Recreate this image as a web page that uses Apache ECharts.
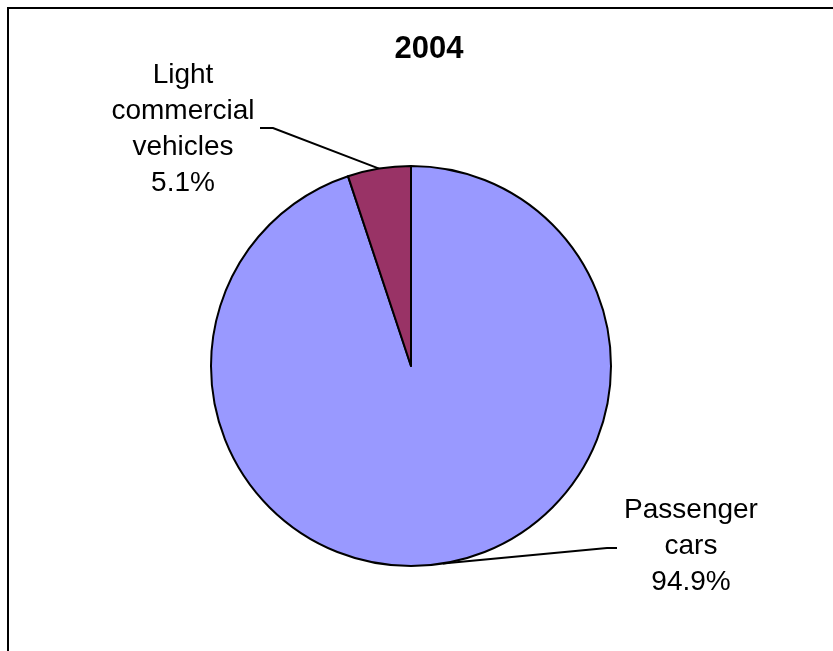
<!DOCTYPE html>
<html>
<head>
<meta charset="utf-8">
<script src="https://cdn.jsdelivr.net/npm/echarts@6/dist/echarts.min.js"></script>
<style>
html,body{margin:0;padding:0;background:#fff;}
#chart{width:833px;height:651px;}
</style>
</head>
<body>
<div id="chart"></div>
<script>
const title = '2004';
const categories = ['Passenger\ncars', 'Light\ncommercial\nvehicles'];
const values = [94.9, 5.1];
const colors = ['#9999FF', '#993366'];

// label placement (layout only)
const labelPos = [
  {x: 691, y: 546, line: [[607, 548], [617, 548]]},
  {x: 183, y: 129, line: [[273, 128], [260, 128]]}
];

const chart = echarts.init(document.getElementById('chart'), null, {renderer: 'canvas'});
chart.setOption({
  animation: false,
  backgroundColor: '#fff',
  title: {
    text: title,
    left: 424, top: 29,
    textAlign: 'center',
    textStyle: {fontFamily: 'Liberation Sans, Arial, sans-serif', fontWeight: 'bold', fontSize: 31, color: '#000'}
  },
  graphic: [{
    type: 'rect',
    shape: {x: 8, y: 8, width: 900, height: 800},
    style: {fill: null, stroke: '#000', lineWidth: 2},
    silent: true
  }],
  series: [{
    type: 'pie',
    center: [411, 366],
    radius: [0, 200],
    startAngle: 90,
    clockwise: true,
    data: categories.map((c, i) => ({name: c, value: values[i], itemStyle: {color: colors[i]}})),
    itemStyle: {borderColor: '#000', borderWidth: 2},
    label: {
      show: true,
      position: 'outside',
      formatter: p => p.name + '\n' + p.value.toFixed(1) + '%',
      fontFamily: 'Liberation Sans, Arial, sans-serif',
      fontSize: 28,
      lineHeight: 36,
      color: '#000',
      align: 'center'
    },
    labelLine: {show: true, length: 10, length2: 10, smooth: false, lineStyle: {color: '#000', width: 2}},
    labelLayout: function (params) {
      const lp = labelPos[params.dataIndex];
      const pts = params.labelLinePoints;
      const anchor = pts ? pts[0] : lp.line[0];
      return {
        x: lp.x, y: lp.y,
        align: 'center', verticalAlign: 'middle',
        labelLinePoints: [anchor, lp.line[0], lp.line[1]]
      };
    },
    emphasis: {disabled: true}
  }]
});
</script>
</body>
</html>
